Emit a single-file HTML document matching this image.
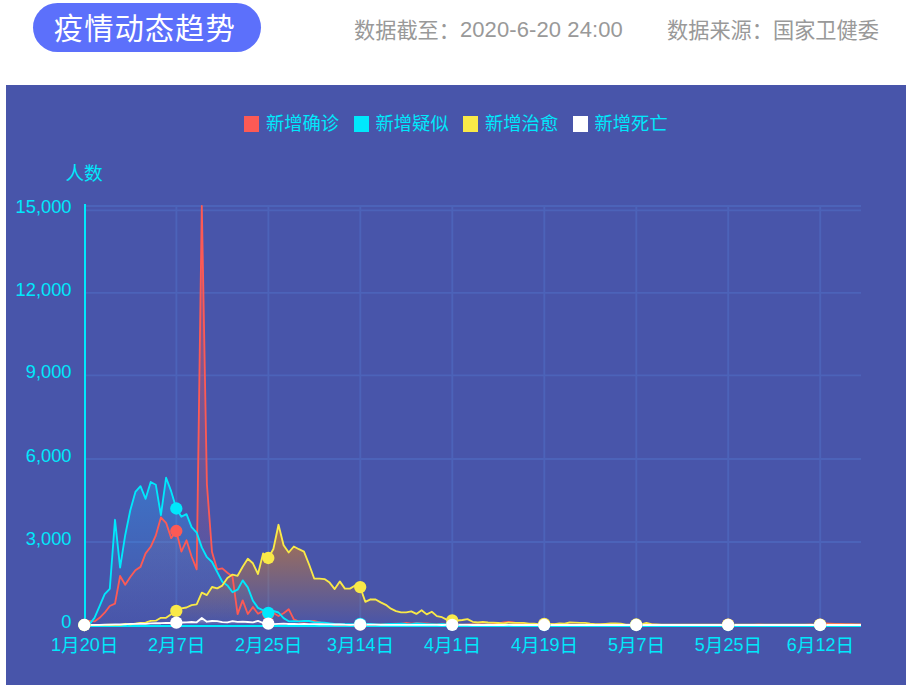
<!DOCTYPE html>
<html lang="zh-CN">
<head>
<meta charset="utf-8">
<title>疫情动态趋势</title>
<style>
html,body{margin:0;padding:0}
body{width:911px;height:691px;position:relative;overflow:hidden;background:#fff;font-family:"Liberation Sans","Noto Sans CJK SC",sans-serif}
.w{font-family:"Liberation Sans","Noto Sans CJK SC",sans-serif;white-space:nowrap}
h1,ul,li,p{margin:0;padding:0;list-style:none;font-weight:normal}
.abs{position:absolute;white-space:nowrap}
.pill{left:33px;top:3px;width:228px;height:48.6px;border-radius:25px;background:#5C70FB;color:#fff;font-size:29.33px;line-height:40px}
.pill .w{position:absolute;left:20.8px;top:10.8px;line-height:1;letter-spacing:.0341em}
.info{color:#999999;font-size:21.2px;line-height:30px;top:15.2px}
.info .n{font-size:22px;letter-spacing:.1px}
.info .w{position:relative;top:1.3px}
.panel{position:absolute;left:6px;top:85px;width:900px;height:600px;background:#4855AA;color:#00E8FC;overflow:hidden}
.panel svg.chart{position:absolute;left:0;top:0}
.legend li{position:absolute;white-space:nowrap;font-size:18.3px;line-height:26px;height:26px}
.legend i{position:absolute;left:0;top:5.1px;width:15.2px;height:15.6px}
.legend .w{margin-left:21.75px}
.yname{font-size:18.67px;line-height:26px}
.yl{font-size:18.3px;line-height:26px;width:60px;text-align:right;left:5.5px}
.xl{font-size:18px;line-height:26px;width:100px;text-align:center}
.xl .w{font-size:18.67px;position:relative;top:0.8px}
</style>
</head>
<body>
<h1 class="abs pill"><span class="w">疫情动态趋势</span></h1>
<p class="abs info" style="left:354px"><span class="w">数据截至：</span><span class="n">2020-6-20 24:00</span></p>
<p class="abs info" style="left:667px"><span class="w">数据来源：国家卫健委</span></p>
<div class="panel">
<svg class="chart" width="900" height="600" viewBox="6 85 900 600">
<defs>
<linearGradient id="ga" gradientUnits="userSpaceOnUse" x1="0" y1="206" x2="0" y2="625"><stop offset="0" stop-color="#FC5A55" stop-opacity="0.5"/><stop offset="1" stop-color="#FC5A55" stop-opacity="0.0"/></linearGradient>
<linearGradient id="gb" gradientUnits="userSpaceOnUse" x1="0" y1="477.7" x2="0" y2="625"><stop offset="0" stop-color="#28AFFF" stop-opacity="0.33"/><stop offset="1" stop-color="#28AFFF" stop-opacity="0.0"/></linearGradient>
<linearGradient id="gc" gradientUnits="userSpaceOnUse" x1="0" y1="524.8" x2="0" y2="625"><stop offset="0" stop-color="#FF8C00" stop-opacity="0.55"/><stop offset="1" stop-color="#FF8C00" stop-opacity="0.0"/></linearGradient>
<linearGradient id="gd" gradientUnits="userSpaceOnUse" x1="0" y1="618" x2="0" y2="625"><stop offset="0" stop-color="#FFFFFF" stop-opacity="0.4"/><stop offset="1" stop-color="#FFFFFF" stop-opacity="0.0"/></linearGradient>
</defs>
<path d="M84.3 542H861M84.3 459H861M84.3 375.4H861M84.3 292.9H861M84.3 210.4H861M84.3 206H861M176.4 206V625M268.4 206V625M360.3 206V625M452.3 206V625M544.3 206V625M636.3 206V625M728.2 206V625M820.2 206V625" stroke="#4C63B9" stroke-width="1.9" fill="none"/>
<path d="M85 204V627M84 626H861" stroke="#00E8FC" stroke-width="2" fill="none"/>
<polygon points="84.3,625 89.4,620.9 94.5,621.4 99.6,617.8 104.7,612.7 109.8,606 115,603.7 120.1,576 125.2,584.7 130.3,577 135.4,570.2 140.5,566.9 145.6,553.4 150.7,546.8 155.8,535.5 160.9,517.5 166.1,522.8 171.2,538.1 176.3,531 181.4,551.6 186.5,540.3 191.6,556.5 196.7,569.3 201.8,206 206.9,484.2 212,552 217.2,569.4 222.3,568.4 227.4,572.8 232.5,576.6 237.6,614.1 242.7,600.4 247.8,614 252.9,607.1 258,613.7 263.1,611 268.3,613.8 273.4,613 278.5,616 283.6,613.2 288.7,609.2 293.8,619.4 298.9,621.5 304,621.7 309.1,621.2 314.2,621 319.4,622.3 324.5,623.8 329.6,623.9 334.7,624.5 339.8,624.3 344.9,624.6 350,624.8 355.1,624.7 360.2,624.4 365.3,624.6 370.5,624.4 375.6,624.6 380.7,624.1 385.8,623.9 390.9,623.9 396,623.7 401.1,623.9 406.2,622.8 411.3,623.7 416.4,623.1 421.6,623.5 426.7,623.5 431.8,623.8 436.9,624.1 442,623.7 447.1,624 452.2,624 457.3,624.1 462.4,624.5 467.5,624.2 472.7,623.9 477.8,624.1 482.9,623.3 488,623.3 493.1,623.8 498.2,623.7 503.3,622.3 508.4,622 513.5,622.5 518.6,623.7 523.7,623.7 528.9,624.3 534,624.3 539.1,624.6 544.2,624.7 549.3,624.7 554.4,624.2 559.5,624.7 564.6,624.8 569.7,624.7 574.8,624.7 580,624.9 585.1,624.8 590.2,624.4 595.3,624.9 600.4,624.7 605.5,625 610.6,624.9 615.7,624.9 620.8,625 625.9,624.9 631.1,624.9 636.2,625 641.3,625 646.4,624.6 651.5,624.5 656.6,625 661.7,624.8 666.8,624.9 671.9,624.9 677,624.8 682.2,624.9 687.3,624.8 692.4,624.8 697.5,624.9 702.6,624.9 707.7,624.9 712.8,624.9 717.9,625 723,624.9 728.1,624.7 733.3,624.8 738.4,625 743.5,624.9 748.6,625 753.7,624.9 758.8,624.6 763.9,624.9 769,625 774.1,625 779.2,624.9 784.4,624.9 789.5,624.8 794.6,624.9 799.7,624.9 804.8,624.9 809.9,624.7 815,624.8 820.1,624.7 825.2,623.4 830.3,623.6 835.5,623.9 840.6,623.8 845.7,624.2 850.8,624.1 855.9,624.3 861,624.3 861,625 84.3,625" fill="url(#ga)"/>
<polygon points="84.3,625 89.4,624.3 94.5,617.9 99.6,606.2 104.7,594.1 109.8,588.8 115,519.8 120.1,567.6 125.2,535.2 130.3,510.3 135.4,491.9 140.5,486.2 145.6,498.8 150.7,482 155.8,484.7 160.9,515.2 166.1,477.7 171.2,491.4 176.3,508.5 181.4,516.7 186.5,514.2 191.6,527.2 196.7,532.6 201.8,547.4 206.9,557.2 212,562 217.2,572 222.3,581.8 227.4,585.4 232.5,592.2 237.6,589.7 242.7,580.4 247.8,587.4 252.9,600.6 258,607.9 263.1,610.3 268.3,612.9 273.4,611 278.5,612.5 283.6,618.1 288.7,621.3 293.8,621.1 298.9,621.4 304,621 309.1,621 314.2,622.2 319.4,622.3 324.5,622.7 329.6,623.3 334.7,624 339.8,624.1 344.9,624.1 350,624.1 355.1,624.5 360.2,623.9 365.3,623.9 370.5,623.8 375.6,624.4 380.7,624.4 385.8,624.1 390.9,624 396,623.8 401.1,623.7 406.2,624 411.3,624.1 416.4,623.4 421.6,623.6 426.7,624.2 431.8,624.2 436.9,624.5 442,623.8 447.1,624.3 452.2,624.4 457.3,624.7 462.4,624.7 467.5,624.7 472.7,624.7 477.8,624.7 482.9,624.7 488,624.5 493.1,624.9 498.2,624.8 503.3,623.6 508.4,624.8 513.5,624.9 518.6,624.9 523.7,624.9 528.9,624.9 534,624.9 539.1,624.9 544.2,624.9 549.3,624.9 554.4,624.9 559.5,624.9 564.6,624.9 569.7,624.9 574.8,625 580,625 585.1,625 590.2,624.9 595.3,624.9 600.4,624.9 605.5,624.9 610.6,625 615.7,625 620.8,624.9 625.9,624.9 631.1,624.9 636.2,624.9 641.3,625 646.4,624.9 651.5,624.9 656.6,625 661.7,624.9 666.8,625 671.9,625 677,625 682.2,625 687.3,625 692.4,624.9 697.5,625 702.6,624.9 707.7,624.9 712.8,625 717.9,625 723,624.9 728.1,625 733.3,625 738.4,625 743.5,624.9 748.6,625 753.7,624.9 758.8,624.9 763.9,625 769,624.9 774.1,625 779.2,624.9 784.4,625 789.5,625 794.6,624.9 799.7,625 804.8,625 809.9,625 815,625 820.1,624.9 825.2,624.9 830.3,624.9 835.5,624.9 840.6,624.9 845.7,624.9 850.8,624.9 855.9,624.8 861,624.8 861,625 84.3,625" fill="url(#gb)"/>
<polygon points="84.3,625 89.4,625 94.5,625 99.6,624.8 104.7,624.9 109.8,624.7 115,624.9 120.1,624.8 125.2,623.8 130.3,624.4 135.4,623.7 140.5,623 145.6,622.6 150.7,620.9 155.8,620.7 160.9,617.8 166.1,617.8 171.2,614.3 176.3,610.9 181.4,608.4 186.5,607.5 191.6,605.2 196.7,604.4 201.8,592.6 206.9,595.1 212,587 217.2,588.4 222.3,585.6 227.4,578 232.5,574.6 237.6,575.8 242.7,566.7 247.8,558.8 252.9,563.3 258,574 263.1,553.4 268.3,558 273.4,549 278.5,524.8 283.6,545.2 288.7,552.5 293.8,546.5 298.9,549.2 304,551.7 309.1,564.5 314.2,578.5 319.4,578.6 324.5,579.1 329.6,582.6 334.7,589.1 339.8,581.4 344.9,588.6 350,588.6 355.1,585.5 360.2,587.1 365.3,601.8 370.5,599.3 375.6,599.5 380.7,602.4 385.8,604.8 390.9,608.7 396,611.1 401.1,612.3 406.2,612.4 411.3,611.4 416.4,613.9 421.6,610.2 426.7,614.4 431.8,611.8 436.9,616.1 442,617.2 447.1,619.9 452.2,620.3 457.3,620.5 462.4,620 467.5,619.1 472.7,621.8 477.8,622.5 482.9,621.9 488,622.5 493.1,622.6 498.2,623 503.3,623.3 508.4,622.6 513.5,622.9 518.6,622.8 523.7,622.9 528.9,623.6 534,623.6 539.1,624.1 544.2,623.9 549.3,624 554.4,624.2 559.5,623.5 564.6,623.6 569.7,622.5 574.8,622.6 580,622.8 585.1,622.9 590.2,623.6 595.3,624.1 600.4,624.1 605.5,623.8 610.6,623.5 615.7,623.5 620.8,623.6 625.9,624.6 631.1,624.6 636.2,624.5 641.3,624.3 646.4,623 651.5,624.1 656.6,624.3 661.7,624.6 666.8,624.6 671.9,624.6 677,624.6 682.2,624.6 687.3,624.6 692.4,624.6 697.5,624.6 702.6,624.6 707.7,624.6 712.8,624.6 717.9,624.6 723,624.6 728.1,624.6 733.3,624.6 738.4,624.6 743.5,624.6 748.6,624.6 753.7,624.6 758.8,624.6 763.9,624.6 769,624.6 774.1,624.6 779.2,624.6 784.4,624.6 789.5,624.6 794.6,624.6 799.7,624.6 804.8,624.6 809.9,624.6 815,624.6 820.1,624.6 825.2,624.6 830.3,624.6 835.5,624.6 840.6,624.6 845.7,624.6 850.8,624.6 855.9,624.6 861,624.6 861,625 84.3,625" fill="url(#gc)"/>
<polygon points="84.3,625 89.4,624.9 94.5,624.8 99.6,624.8 104.7,624.6 109.8,624.6 115,624.3 120.1,624.3 125.2,624.3 130.3,623.9 135.4,623.8 140.5,623.7 145.6,623.8 150.7,623.4 155.8,623.2 160.9,623.2 166.1,623 171.2,623 176.3,622.6 181.4,622.5 186.5,622.3 191.6,622 196.7,622.3 201.8,618 206.9,621.7 212,621 217.2,621.1 222.3,622.1 227.4,622.3 232.5,621.2 237.6,621.8 242.7,621.7 247.8,622 252.9,622.3 258,620.9 263.1,623 268.3,623.6 273.4,624.2 278.5,623.8 283.6,623.7 288.7,624 293.8,623.8 298.9,624.1 304,623.9 309.1,624.1 314.2,624.2 319.4,624.2 324.5,624.3 329.6,624.4 334.7,624.5 339.8,624.4 344.9,624.7 350,624.8 355.1,624.6 360.2,624.7 365.3,624.6 370.5,624.6 375.6,624.7 380.7,624.8 385.8,624.9 390.9,624.8 396,624.8 401.1,624.8 406.2,624.8 411.3,624.9 416.4,624.8 421.6,624.9 426.7,624.9 431.8,624.9 436.9,624.9 442,625 447.1,624.8 452.2,624.8 457.3,624.9 462.4,624.9 467.5,624.9 472.7,625 477.8,625 482.9,624.9 488,625 493.1,625 498.2,624.9 503.3,625 508.4,624.9 513.5,625 518.6,625 523.7,625 528.9,625 534,625 539.1,625 544.2,625 549.3,625 554.4,625 559.5,625 564.6,625 569.7,625 574.8,625 580,625 585.1,625 590.2,625 595.3,625 600.4,625 605.5,625 610.6,625 615.7,625 620.8,625 625.9,625 631.1,625 636.2,625 641.3,625 646.4,625 651.5,625 656.6,625 661.7,625 666.8,625 671.9,625 677,625 682.2,625 687.3,625 692.4,625 697.5,625 702.6,625 707.7,625 712.8,625 717.9,625 723,625 728.1,625 733.3,625 738.4,625 743.5,625 748.6,625 753.7,625 758.8,625 763.9,625 769,625 774.1,625 779.2,625 784.4,625 789.5,625 794.6,625 799.7,625 804.8,625 809.9,625 815,625 820.1,625 825.2,625 830.3,625 835.5,625 840.6,625 845.7,625 850.8,625 855.9,625 861,625 861,625 84.3,625" fill="url(#gd)"/>
<polyline points="84.3,625 89.4,620.9 94.5,621.4 99.6,617.8 104.7,612.7 109.8,606 115,603.7 120.1,576 125.2,584.7 130.3,577 135.4,570.2 140.5,566.9 145.6,553.4 150.7,546.8 155.8,535.5 160.9,517.5 166.1,522.8 171.2,538.1 176.3,531 181.4,551.6 186.5,540.3 191.6,556.5 196.7,569.3 201.8,206 206.9,484.2 212,552 217.2,569.4 222.3,568.4 227.4,572.8 232.5,576.6 237.6,614.1 242.7,600.4 247.8,614 252.9,607.1 258,613.7 263.1,611 268.3,613.8 273.4,613 278.5,616 283.6,613.2 288.7,609.2 293.8,619.4 298.9,621.5 304,621.7 309.1,621.2 314.2,621 319.4,622.3 324.5,623.8 329.6,623.9 334.7,624.5 339.8,624.3 344.9,624.6 350,624.8 355.1,624.7 360.2,624.4 365.3,624.6 370.5,624.4 375.6,624.6 380.7,624.1 385.8,623.9 390.9,623.9 396,623.7 401.1,623.9 406.2,622.8 411.3,623.7 416.4,623.1 421.6,623.5 426.7,623.5 431.8,623.8 436.9,624.1 442,623.7 447.1,624 452.2,624 457.3,624.1 462.4,624.5 467.5,624.2 472.7,623.9 477.8,624.1 482.9,623.3 488,623.3 493.1,623.8 498.2,623.7 503.3,622.3 508.4,622 513.5,622.5 518.6,623.7 523.7,623.7 528.9,624.3 534,624.3 539.1,624.6 544.2,624.7 549.3,624.7 554.4,624.2 559.5,624.7 564.6,624.8 569.7,624.7 574.8,624.7 580,624.9 585.1,624.8 590.2,624.4 595.3,624.9 600.4,624.7 605.5,625 610.6,624.9 615.7,624.9 620.8,625 625.9,624.9 631.1,624.9 636.2,625 641.3,625 646.4,624.6 651.5,624.5 656.6,625 661.7,624.8 666.8,624.9 671.9,624.9 677,624.8 682.2,624.9 687.3,624.8 692.4,624.8 697.5,624.9 702.6,624.9 707.7,624.9 712.8,624.9 717.9,625 723,624.9 728.1,624.7 733.3,624.8 738.4,625 743.5,624.9 748.6,625 753.7,624.9 758.8,624.6 763.9,624.9 769,625 774.1,625 779.2,624.9 784.4,624.9 789.5,624.8 794.6,624.9 799.7,624.9 804.8,624.9 809.9,624.7 815,624.8 820.1,624.7 825.2,623.4 830.3,623.6 835.5,623.9 840.6,623.8 845.7,624.2 850.8,624.1 855.9,624.3 861,624.3" fill="none" stroke="#FC5A55" stroke-width="1.85" stroke-linejoin="round"/>
<polyline points="84.3,625 89.4,624.3 94.5,617.9 99.6,606.2 104.7,594.1 109.8,588.8 115,519.8 120.1,567.6 125.2,535.2 130.3,510.3 135.4,491.9 140.5,486.2 145.6,498.8 150.7,482 155.8,484.7 160.9,515.2 166.1,477.7 171.2,491.4 176.3,508.5 181.4,516.7 186.5,514.2 191.6,527.2 196.7,532.6 201.8,547.4 206.9,557.2 212,562 217.2,572 222.3,581.8 227.4,585.4 232.5,592.2 237.6,589.7 242.7,580.4 247.8,587.4 252.9,600.6 258,607.9 263.1,610.3 268.3,612.9 273.4,611 278.5,612.5 283.6,618.1 288.7,621.3 293.8,621.1 298.9,621.4 304,621 309.1,621 314.2,622.2 319.4,622.3 324.5,622.7 329.6,623.3 334.7,624 339.8,624.1 344.9,624.1 350,624.1 355.1,624.5 360.2,623.9 365.3,623.9 370.5,623.8 375.6,624.4 380.7,624.4 385.8,624.1 390.9,624 396,623.8 401.1,623.7 406.2,624 411.3,624.1 416.4,623.4 421.6,623.6 426.7,624.2 431.8,624.2 436.9,624.5 442,623.8 447.1,624.3 452.2,624.4 457.3,624.7 462.4,624.7 467.5,624.7 472.7,624.7 477.8,624.7 482.9,624.7 488,624.5 493.1,624.9 498.2,624.8 503.3,623.6 508.4,624.8 513.5,624.9 518.6,624.9 523.7,624.9 528.9,624.9 534,624.9 539.1,624.9 544.2,624.9 549.3,624.9 554.4,624.9 559.5,624.9 564.6,624.9 569.7,624.9 574.8,625 580,625 585.1,625 590.2,624.9 595.3,624.9 600.4,624.9 605.5,624.9 610.6,625 615.7,625 620.8,624.9 625.9,624.9 631.1,624.9 636.2,624.9 641.3,625 646.4,624.9 651.5,624.9 656.6,625 661.7,624.9 666.8,625 671.9,625 677,625 682.2,625 687.3,625 692.4,624.9 697.5,625 702.6,624.9 707.7,624.9 712.8,625 717.9,625 723,624.9 728.1,625 733.3,625 738.4,625 743.5,624.9 748.6,625 753.7,624.9 758.8,624.9 763.9,625 769,624.9 774.1,625 779.2,624.9 784.4,625 789.5,625 794.6,624.9 799.7,625 804.8,625 809.9,625 815,625 820.1,624.9 825.2,624.9 830.3,624.9 835.5,624.9 840.6,624.9 845.7,624.9 850.8,624.9 855.9,624.8 861,624.8" fill="none" stroke="#00E8FC" stroke-width="1.85" stroke-linejoin="round"/>
<polyline points="84.3,625 89.4,625 94.5,625 99.6,624.8 104.7,624.9 109.8,624.7 115,624.9 120.1,624.8 125.2,623.8 130.3,624.4 135.4,623.7 140.5,623 145.6,622.6 150.7,620.9 155.8,620.7 160.9,617.8 166.1,617.8 171.2,614.3 176.3,610.9 181.4,608.4 186.5,607.5 191.6,605.2 196.7,604.4 201.8,592.6 206.9,595.1 212,587 217.2,588.4 222.3,585.6 227.4,578 232.5,574.6 237.6,575.8 242.7,566.7 247.8,558.8 252.9,563.3 258,574 263.1,553.4 268.3,558 273.4,549 278.5,524.8 283.6,545.2 288.7,552.5 293.8,546.5 298.9,549.2 304,551.7 309.1,564.5 314.2,578.5 319.4,578.6 324.5,579.1 329.6,582.6 334.7,589.1 339.8,581.4 344.9,588.6 350,588.6 355.1,585.5 360.2,587.1 365.3,601.8 370.5,599.3 375.6,599.5 380.7,602.4 385.8,604.8 390.9,608.7 396,611.1 401.1,612.3 406.2,612.4 411.3,611.4 416.4,613.9 421.6,610.2 426.7,614.4 431.8,611.8 436.9,616.1 442,617.2 447.1,619.9 452.2,620.3 457.3,620.5 462.4,620 467.5,619.1 472.7,621.8 477.8,622.5 482.9,621.9 488,622.5 493.1,622.6 498.2,623 503.3,623.3 508.4,622.6 513.5,622.9 518.6,622.8 523.7,622.9 528.9,623.6 534,623.6 539.1,624.1 544.2,623.9 549.3,624 554.4,624.2 559.5,623.5 564.6,623.6 569.7,622.5 574.8,622.6 580,622.8 585.1,622.9 590.2,623.6 595.3,624.1 600.4,624.1 605.5,623.8 610.6,623.5 615.7,623.5 620.8,623.6 625.9,624.6 631.1,624.6 636.2,624.5 641.3,624.3 646.4,623 651.5,624.1 656.6,624.3 661.7,624.6 666.8,624.6 671.9,624.6 677,624.6 682.2,624.6 687.3,624.6 692.4,624.6 697.5,624.6 702.6,624.6 707.7,624.6 712.8,624.6 717.9,624.6 723,624.6 728.1,624.6 733.3,624.6 738.4,624.6 743.5,624.6 748.6,624.6 753.7,624.6 758.8,624.6 763.9,624.6 769,624.6 774.1,624.6 779.2,624.6 784.4,624.6 789.5,624.6 794.6,624.6 799.7,624.6 804.8,624.6 809.9,624.6 815,624.6 820.1,624.6 825.2,624.6 830.3,624.6 835.5,624.6 840.6,624.6 845.7,624.6 850.8,624.6 855.9,624.6 861,624.6" fill="none" stroke="#F9E948" stroke-width="1.85" stroke-linejoin="round"/>
<polyline points="84.3,625 89.4,624.9 94.5,624.8 99.6,624.8 104.7,624.6 109.8,624.6 115,624.3 120.1,624.3 125.2,624.3 130.3,623.9 135.4,623.8 140.5,623.7 145.6,623.8 150.7,623.4 155.8,623.2 160.9,623.2 166.1,623 171.2,623 176.3,622.6 181.4,622.5 186.5,622.3 191.6,622 196.7,622.3 201.8,618 206.9,621.7 212,621 217.2,621.1 222.3,622.1 227.4,622.3 232.5,621.2 237.6,621.8 242.7,621.7 247.8,622 252.9,622.3 258,620.9 263.1,623 268.3,623.6 273.4,624.2 278.5,623.8 283.6,623.7 288.7,624 293.8,623.8 298.9,624.1 304,623.9 309.1,624.1 314.2,624.2 319.4,624.2 324.5,624.3 329.6,624.4 334.7,624.5 339.8,624.4 344.9,624.7 350,624.8 355.1,624.6 360.2,624.7 365.3,624.6 370.5,624.6 375.6,624.7 380.7,624.8 385.8,624.9 390.9,624.8 396,624.8 401.1,624.8 406.2,624.8 411.3,624.9 416.4,624.8 421.6,624.9 426.7,624.9 431.8,624.9 436.9,624.9 442,625 447.1,624.8 452.2,624.8 457.3,624.9 462.4,624.9 467.5,624.9 472.7,625 477.8,625 482.9,624.9 488,625 493.1,625 498.2,624.9 503.3,625 508.4,624.9 513.5,625 518.6,625 523.7,625 528.9,625 534,625 539.1,625 544.2,625 549.3,625 554.4,625 559.5,625 564.6,625 569.7,625 574.8,625 580,625 585.1,625 590.2,625 595.3,625 600.4,625 605.5,625 610.6,625 615.7,625 620.8,625 625.9,625 631.1,625 636.2,625 641.3,625 646.4,625 651.5,625 656.6,625 661.7,625 666.8,625 671.9,625 677,625 682.2,625 687.3,625 692.4,625 697.5,625 702.6,625 707.7,625 712.8,625 717.9,625 723,625 728.1,625 733.3,625 738.4,625 743.5,625 748.6,625 753.7,625 758.8,625 763.9,625 769,625 774.1,625 779.2,625 784.4,625 789.5,625 794.6,625 799.7,625 804.8,625 809.9,625 815,625 820.1,625 825.2,625 830.3,625 835.5,625 840.6,625 845.7,625 850.8,625 855.9,625 861,625" fill="none" stroke="#FFFFFF" stroke-width="1.85" stroke-linejoin="round"/>
<g fill="#FC5A55"><circle cx="84.3" cy="625" r="6.15"/><circle cx="176.3" cy="531" r="6.15"/><circle cx="268.3" cy="613.8" r="6.15"/><circle cx="360.2" cy="624.4" r="6.15"/><circle cx="452.2" cy="624" r="6.15"/><circle cx="544.2" cy="624.7" r="6.15"/><circle cx="636.2" cy="625" r="6.15"/><circle cx="728.1" cy="624.7" r="6.15"/><circle cx="820.1" cy="624.7" r="6.15"/></g>
<g fill="#00E8FC"><circle cx="84.3" cy="625" r="6.15"/><circle cx="176.3" cy="508.5" r="6.15"/><circle cx="268.3" cy="612.9" r="6.15"/><circle cx="360.2" cy="623.9" r="6.15"/><circle cx="452.2" cy="624.4" r="6.15"/><circle cx="544.2" cy="624.9" r="6.15"/><circle cx="636.2" cy="624.9" r="6.15"/><circle cx="728.1" cy="625" r="6.15"/><circle cx="820.1" cy="624.9" r="6.15"/></g>
<g fill="#F9E948"><circle cx="84.3" cy="625" r="6.15"/><circle cx="176.3" cy="610.9" r="6.15"/><circle cx="268.3" cy="558" r="6.15"/><circle cx="360.2" cy="587.1" r="6.15"/><circle cx="452.2" cy="620.3" r="6.15"/><circle cx="544.2" cy="623.9" r="6.15"/><circle cx="636.2" cy="624.5" r="6.15"/><circle cx="728.1" cy="624.6" r="6.15"/><circle cx="820.1" cy="624.6" r="6.15"/></g>
<g fill="#FFFFFF"><circle cx="84.3" cy="625" r="6.15"/><circle cx="176.3" cy="622.6" r="6.15"/><circle cx="268.3" cy="623.6" r="6.15"/><circle cx="360.2" cy="624.7" r="6.15"/><circle cx="452.2" cy="624.8" r="6.15"/><circle cx="544.2" cy="625" r="6.15"/><circle cx="636.2" cy="625" r="6.15"/><circle cx="728.1" cy="625" r="6.15"/><circle cx="820.1" cy="625" r="6.15"/></g>
</svg>
<ul class="legend">
<li style="left:238.2px;top:26px"><i style="background:#FC5A55"></i><span class="w">新增确诊</span></li>
<li style="left:347.8px;top:26px"><i style="background:#00E8FC"></i><span class="w">新增疑似</span></li>
<li style="left:457.3px;top:26px"><i style="background:#F9E948"></i><span class="w">新增治愈</span></li>
<li style="left:566.8px;top:26px"><i style="background:#FFFFFF"></i><span class="w">新增死亡</span></li>
</ul>
<div class="abs yname" style="left:59.4px;top:75.6px"><span class="w">人数</span></div>
<div class="abs yl" style="top:524.4px">0</div>
<div class="abs yl" style="top:440.9px">3,000</div>
<div class="abs yl" style="top:357.9px">6,000</div>
<div class="abs yl" style="top:274.3px">9,000</div>
<div class="abs yl" style="top:191.8px">12,000</div>
<div class="abs yl" style="top:109.3px">15,000</div>
<div class="abs xl" style="left:28.7px;top:546.8px">1<span class="w">月</span>20<span class="w">日</span></div>
<div class="abs xl" style="left:120.7px;top:546.8px">2<span class="w">月</span>7<span class="w">日</span></div>
<div class="abs xl" style="left:212.7px;top:546.8px">2<span class="w">月</span>25<span class="w">日</span></div>
<div class="abs xl" style="left:304.6px;top:546.8px">3<span class="w">月</span>14<span class="w">日</span></div>
<div class="abs xl" style="left:396.6px;top:546.8px">4<span class="w">月</span>1<span class="w">日</span></div>
<div class="abs xl" style="left:488.6px;top:546.8px">4<span class="w">月</span>19<span class="w">日</span></div>
<div class="abs xl" style="left:580.6px;top:546.8px">5<span class="w">月</span>7<span class="w">日</span></div>
<div class="abs xl" style="left:672.5px;top:546.8px">5<span class="w">月</span>25<span class="w">日</span></div>
<div class="abs xl" style="left:764.5px;top:546.8px">6<span class="w">月</span>12<span class="w">日</span></div>
</div>
</body>
</html>
